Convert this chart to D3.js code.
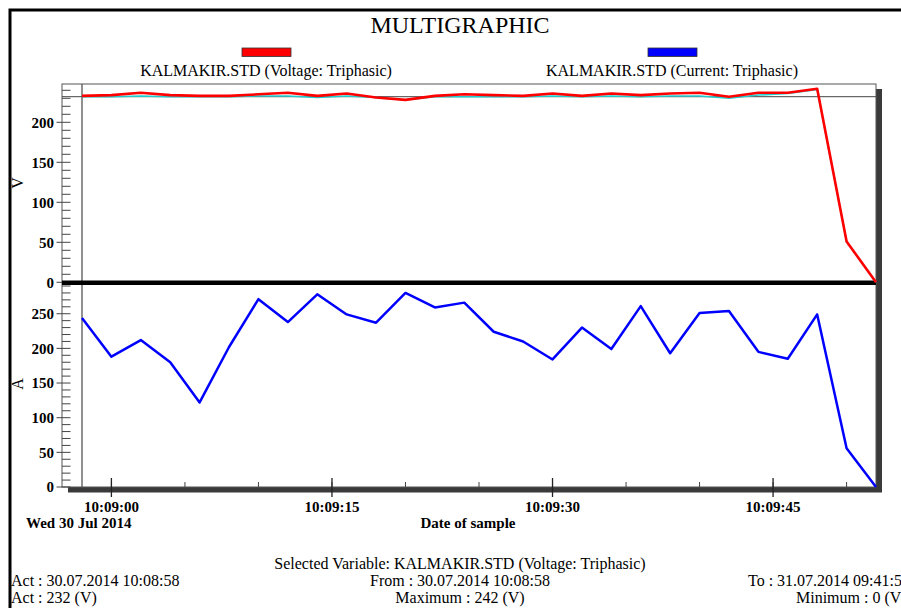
<!DOCTYPE html>
<html><head><meta charset="utf-8">
<script src="https://cdn.jsdelivr.net/npm/d3@7"></script>
<style>
html,body{margin:0;padding:0;background:#fff;overflow:hidden}
text{font-family:"Liberation Serif","Times New Roman",serif;fill:#000}
</style></head>
<body><svg id="c" width="901" height="608"></svg>
<script>
// ---- data ----
const times = ["10:08:58","10:09:00","10:09:02","10:09:04","10:09:06","10:09:08","10:09:10","10:09:12","10:09:14","10:09:16","10:09:18","10:09:20","10:09:22","10:09:24","10:09:26","10:09:28","10:09:30","10:09:32","10:09:34","10:09:36","10:09:38","10:09:40","10:09:42","10:09:44","10:09:46","10:09:48","10:09:50","10:09:52"];
const voltage = [233,234,237,234,233,233,235,237,233,236,231,228,233,235,234,233,236,233,236,234,236,237,232,237,237,242,51,0];
const voltageRef = [232,232,233,232,232,232,233,233,231,233,231,228,232,232,232,232,233,232,233,232,233,233,230,234,236,241,51,0];
const current = [244,188,212,180,122,202,271,238,278,249,237,280,259,266,224,210,184,230,199,261,193,251,254,195,185,249,56,0];
const voltTicks = [0,50,100,150,200];
const currTicks = [0,50,100,150,200,250];
const xTickLabels = ["10:09:00","10:09:15","10:09:30","10:09:45"];
const actValue = 232;
const seriesNames = ["KALMAKIR.STD (Voltage: Triphasic)","KALMAKIR.STD (Current: Triphasic)"];
const seriesColors = ["#ff0000","#0000ff"];

const svg = d3.select("#c");
const parse = d3.timeParse("%Y-%m-%d %H:%M:%S");
const T = t => parse("2014-07-30 " + t);
const dates = times.map(T);

const L = 62, R = 876, TOP = 84, BOT = 487, PX0 = 82;
const x = d3.scaleTime().domain([dates[0], dates[dates.length-1]]).range([PX0, R]);
const yT = d3.scaleLinear().domain([0, 250]).range([282.3, 82.3]);
const yB = d3.scaleLinear().domain([0, 290]).range([BOT, 286]);

// outer frame
svg.append("rect").attr("x",10).attr("y",10).attr("width",1000).attr("height",1000)
  .attr("fill","none").attr("stroke","#000").attr("stroke-width",3);

// title
svg.append("text").attr("x",460).attr("y",33).attr("text-anchor","middle")
  .style("font-size","24px").text("MULTIGRAPHIC");

// legend
const legX = [266, 672];
seriesNames.forEach((n,i)=>{
  svg.append("rect").attr("x",legX[i]-24).attr("y",48).attr("width",49).attr("height",8.5)
    .attr("fill",seriesColors[i]).attr("stroke","#333").attr("stroke-width",0.8);
  svg.append("text").attr("x",legX[i]).attr("y",75.5).attr("text-anchor","middle")
    .style("font-size","16px").text(n);
});

// shadow
svg.append("rect").attr("x",R).attr("y",TOP+5).attr("width",6).attr("height",BOT-TOP).attr("fill","#3a3a3a");
svg.append("rect").attr("x",L+6).attr("y",BOT).attr("width",R-L).attr("height",5.5).attr("fill","#3a3a3a");

// frame
svg.append("rect").attr("x",L).attr("y",TOP).attr("width",R-L).attr("height",BOT-TOP)
  .attr("fill","#fff").attr("stroke","#555").attr("stroke-width",1);

// reference (act) line
svg.append("line").attr("x1",L).attr("x2",R).attr("y1",yT(actValue)).attr("y2",yT(actValue))
  .attr("stroke","#444").attr("stroke-width",1);
// cursor line
svg.append("line").attr("x1",x(dates[0])).attr("x2",x(dates[0])).attr("y1",TOP).attr("y2",BOT)
  .attr("stroke","#555").attr("stroke-width",1.3);

// y axes ticks
function yTicks(scale, maxV, majors){
  const g = svg.append("g");
  for(let v=0; v<=maxV; v+=10){
    g.append("line").attr("x1",L).attr("x2",L+8.5).attr("y1",scale(v)).attr("y2",scale(v))
      .attr("stroke","#444").attr("stroke-width",1);
  }
  majors.forEach(v=>{
    g.append("line").attr("x1",L-5.5).attr("x2",L).attr("y1",scale(v)).attr("y2",scale(v))
      .attr("stroke","#444").attr("stroke-width",1);
    g.append("text").attr("x",54).attr("y",scale(v)).attr("dy","0.35em").attr("text-anchor","end")
      .style("font-size","15px").style("font-weight","bold").text(v);
  });
}
yTicks(yT, 240, voltTicks);
yTicks(yB, 290, currTicks);

// axis titles
svg.append("text").attr("transform","translate(23,183) rotate(-90)").attr("text-anchor","middle")
  .style("font-size","16px").text("V");
svg.append("text").attr("transform","translate(23,384) rotate(-90)").attr("text-anchor","middle")
  .style("font-size","16px").text("A");

// zero divider
svg.append("line").attr("x1",L).attr("x2",R).attr("y1",yT(0)+0.5).attr("y2",yT(0)+0.5)
  .attr("stroke","#000").attr("stroke-width",4.5);

// x ticks
const minorT = d3.timeSecond.every(5).range(dates[0], dates[dates.length-1]);
minorT.forEach(d=>{
  svg.append("line").attr("x1",x(d)).attr("x2",x(d)).attr("y1",BOT-5).attr("y2",BOT)
    .attr("stroke","#444").attr("stroke-width",1);
});
xTickLabels.forEach(t=>{
  const xx = x(T(t));
  svg.append("line").attr("x1",xx).attr("x2",xx).attr("y1",BOT-9).attr("y2",BOT+10)
    .attr("stroke","#222").attr("stroke-width",1.3);
  svg.append("text").attr("x",xx).attr("y",512).attr("text-anchor","middle")
    .style("font-size","15px").style("font-weight","bold").text(t);
});
svg.append("text").attr("x",26).attr("y",528).style("font-size","15px").style("font-weight","bold").text("Wed 30 Jul 2014");
svg.append("text").attr("x",468).attr("y",528).attr("text-anchor","middle").style("font-size","15px").style("font-weight","bold").text("Date of sample");

// series lines
const lineT = d3.line().x((d,i)=>x(dates[i])).y(d=>yT(d));
const lineB = d3.line().x((d,i)=>x(dates[i])).y(d=>yB(d));
svg.append("path").attr("d",lineT(voltageRef)).attr("fill","none").attr("stroke","#22cccc").attr("stroke-width",1.5);
svg.append("path").attr("d",lineT(voltage)).attr("fill","none").attr("stroke",seriesColors[0]).attr("stroke-width",2.6).attr("stroke-linejoin","round");
svg.append("path").attr("d",lineB(current)).attr("fill","none").attr("stroke",seriesColors[1]).attr("stroke-width",2.5).attr("stroke-linejoin","round");

// footer
const ft = (xx,yy,s,anchor)=>svg.append("text").attr("x",xx).attr("y",yy).attr("text-anchor",anchor||"start").style("font-size","16px").text(s);
ft(460,569,"Selected Variable: " + seriesNames[0],"middle");
ft(11,586,"Act : 30.07.2014 " + times[0]);
ft(460,586,"From : 30.07.2014 " + times[0],"middle");
ft(748,586,"To : 31.07.2014 09:41:54");
ft(11,603,"Act : " + actValue + " (V)");
ft(460,603,"Maximum : " + d3.max(voltage) + " (V)","middle");
ft(796,603,"Minimum : " + d3.min(voltage) + " (V)");
</script></body></html>
